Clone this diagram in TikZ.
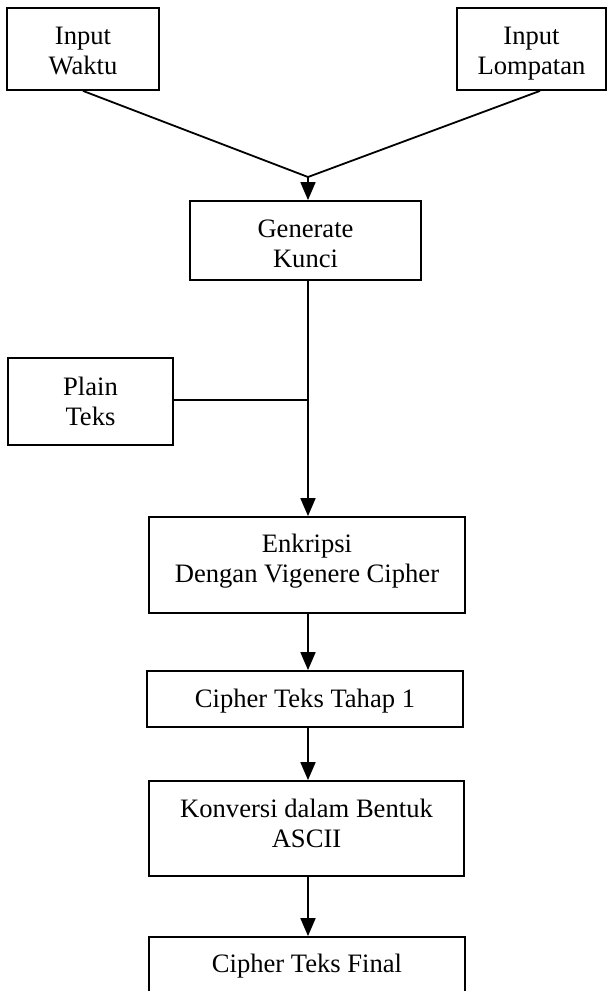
\documentclass[tikz,border=0pt]{standalone}
\usepackage{fontspec}
\setmainfont{Liberation Serif}
\usetikzlibrary{arrows.meta,calc}
% centred lines of text whose first baseline sits #1 above the node centre
\newcommand{\boxtext}[2]{\raisebox{#1}[0pt][0pt]{\begin{tabular}[t]{@{}c@{}}#2\end{tabular}}}
\begin{document}
\begin{tikzpicture}[x=1pt,y=-1pt,
  box/.style={draw=black,line width=1.8pt,inner sep=0pt,
    font=\fontsize{26.6}{30}\selectfont},
  link/.style={draw=black,line width=1.8pt},
  flow/.style={link,-{Triangle[length=18pt,width=15pt]}}]
  \useasboundingbox (0,0) rectangle (608,991);
  \clip (0,0) rectangle (608,991);

  % input boxes
  \node[box,minimum width=152pt,minimum height=82pt] (waktu) at (83,49) {\boxtext{5pt}{Input\\Waktu}};
  \node[box,minimum width=149pt,minimum height=82pt] (lompatan) at (531.5,49) {\boxtext{5pt}{Input\\Lompatan}};

  % key generation
  \node[box,minimum width=231pt,minimum height=79pt] (kunci) at (305.5,240.5) {\boxtext{3.5pt}{Generate\\Kunci}};

  % plaintext input
  \node[box,minimum width=165pt,minimum height=87pt] (plain) at (90.5,401.5) {\boxtext{6.5pt}{Plain\\Teks}};

  % processing chain
  \node[box,minimum width=316pt,minimum height=96pt] (enkripsi) at (307,565) {\boxtext{13pt}{Enkripsi\\Dengan Vigenere Cipher}};
  \node[box,minimum width=316pt,minimum height=56pt] (tahap) at (305,699) {\boxtext{-8pt}{Cipher Teks Tahap 1}};
  \node[box,minimum width=315pt,minimum height=95pt] (konversi) at (306.5,828.5) {\boxtext{11.5pt}{Konversi dalam Bentuk\\ASCII}};
  \node[box,minimum width=316pt,minimum height=56pt] (final) at (307,965) {\boxtext{-7pt}{Cipher Teks Final}};

  % junction points on the main trunk
  \coordinate (j1) at (308,177);
  \coordinate (j2) at (308,400);

  % connectors
  \draw[link] (waktu.south) -- (j1);
  \draw[link] ($(lompatan.south)+(8.5,0)$) -- (j1);
  \draw[flow] (j1) -- (j1 |- kunci.north);
  \draw[flow] (j1 |- kunci.south) -- (j1 |- enkripsi.north);
  \draw[link] (plain.east |- j2) -- (j2);
  \draw[flow] (j1 |- enkripsi.south) -- (j1 |- tahap.north);
  \draw[flow] (j1 |- tahap.south) -- (j1 |- konversi.north);
  \draw[flow] (j1 |- konversi.south) -- (j1 |- final.north);
\end{tikzpicture}
\end{document}
